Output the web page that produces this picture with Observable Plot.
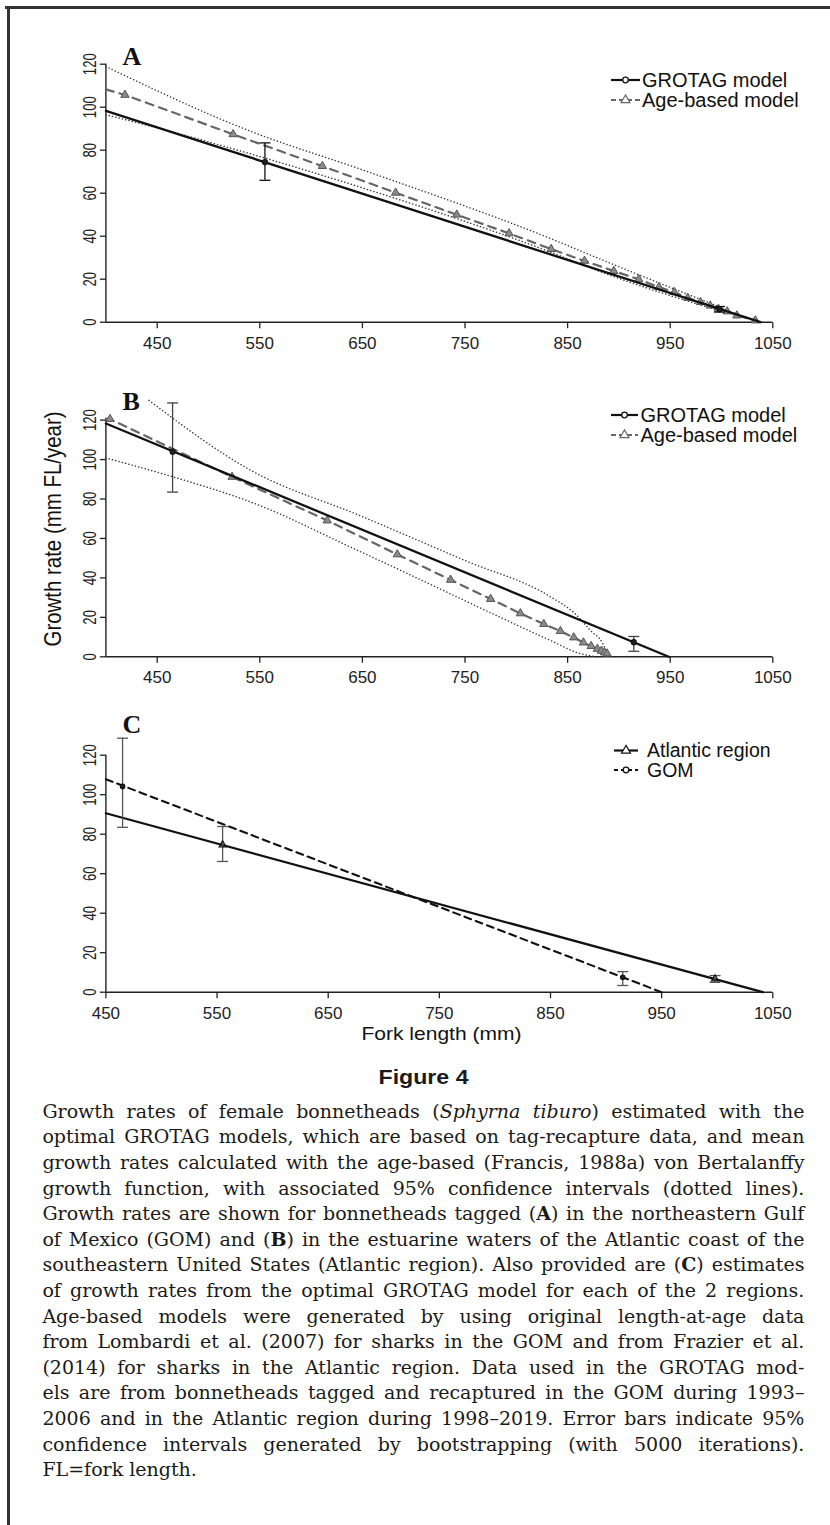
<!DOCTYPE html>
<html><head><meta charset="utf-8">
<script src="https://cdn.jsdelivr.net/npm/d3@7"></script>
<script src="https://cdn.jsdelivr.net/npm/@observablehq/plot@0.6"></script>
<style>
body{margin:0;background:#fff;}
#page{position:relative;width:830px;height:1525px;overflow:hidden;background:#fff;}
.panel{position:absolute;left:0;}
#overlay{position:absolute;left:0;top:0;pointer-events:none;}
#caption{position:absolute;left:42.4px;top:1098.9px;width:762px;font-family:"DejaVu Serif",serif;font-size:19px;line-height:25.6px;color:#1a1a1a;}
#caption div{white-space:nowrap;}
</style></head><body><div id="page"></div>
<script>
// ---------- data ----------
const xTicks = [450, 550, 650, 750, 850, 950, 1050];
const yTicks = [0, 20, 40, 60, 80, 100, 120];

// Panel A (GOM)
const aGrotagLineX = [400, 1038], aGrotagLineY = [98.3, 0];
const aGrotagX = [555, 998], aGrotagY = [74.5, 6.0], aGrotagLo = [66.0, 4.7], aGrotagHi = [83.4, 7.3];
const aAgeEndX = [400, 1036], aAgeEndY = [108.3, 0];
const aAgeX = [418.6, 524, 611, 682.4, 742, 793, 834, 866.5, 895, 919.4, 939, 954, 967, 979.5, 989, 997, 1005.5, 1015, 1033];
const aAgeY = [105.7, 87.4, 72.6, 60.2, 50, 41.3, 34, 28.5, 23.8, 19.9, 16.3, 14, 11.3, 9.3, 7.7, 6.2, 5, 3.1, 0.8];
const aUpperX = [400, 541, 648, 834, 882, 1002], aUpperY = [118.9, 88.8, 71.2, 38.8, 29.3, 6.4];
const aLowerX = [400, 453, 541, 648, 834, 882, 1000], aLowerY = [96.5, 90.0, 78.3, 62.8, 32.5, 23.5, 5.0];

// Panel B (Atlantic region)
const bGrotagLineX = [400, 948.6], bGrotagLineY = [118.3, 0];
const bGrotagX = [465, 914.5], bGrotagY = [104, 7.4], bGrotagLo = [83.5, 2.8], bGrotagHi = [128.7, 10.3];
const bAgeEndX = [400, 891], bAgeEndY = [120.8, 0.3];
const bAgeX = [404, 523, 615.7, 684, 736, 775, 804, 826.8, 843, 856, 865.4, 873, 879, 883, 886, 888.5];
const bAgeY = [120.5, 91.2, 69.1, 51.9, 39, 29.3, 22, 16.6, 13, 9.8, 7.2, 5.4, 4, 3, 2.2, 1.6];
const bUpperX = [442, 541, 648, 750, 834, 857, 873, 884, 889], bUpperY = [130, 94.6, 71.5, 48.8, 30.2, 22, 13, 7, 1];
const bLowerX = [400, 465, 541, 648, 834, 860, 878], bLowerY = [100.8, 91.3, 78.5, 53.3, 8.1, 2, 0];

// Panel C (GROTAG models, both regions)
const cXDomain = [450, 1050];
const cSolidLineX = [450, 1041], cSolidLineY = [90.6, 0];
const cSolidX = [555, 998], cSolidY = [74.6, 6.8], cSolidLo = [66.2, 5.0], cSolidHi = [83.9, 8.4];
const cDashLineX = [450, 950], cDashLineY = [107.8, 0];
const cDashX = [465, 915], cDashY = [104.2, 7.6], cDashLo = [83.5, 3.4], cDashHi = [128.6, 10.4];

const legendA = ["GROTAG model", "Age-based model"];
const legendC = ["Atlantic region", "GOM"];

// ---------- helpers ----------
const zip = (xs, ys) => xs.map((x, i) => ({x, y: ys[i]}));
const bars = (xs, ys, lo, hi) => xs.map((x, i) => ({x, y: ys[i], lo: lo[i], hi: hi[i]}));
const tickSymY = {draw(c){ c.moveTo(-6, 0); c.lineTo(0, 0); }};
const tickSymX = {draw(c){ c.moveTo(0, 0); c.lineTo(0, 6); }};
const capSym = {draw(c){ c.moveTo(-5.5, 0); c.lineTo(5.5, 0); }};
const AX = "#222";
const dotted = {stroke: "#3a3a3a", strokeWidth: 1.5, strokeDasharray: "0.1,3.3", strokeLinecap: "round", curve: "monotone-x"};

function errorBars(data, color, marker){
  return [
    Plot.ruleX(data, {x: "x", y1: "lo", y2: "hi", stroke: color, strokeWidth: 1.3}),
    Plot.dot(data, {x: "x", y: "lo", symbol: capSym, stroke: color, strokeWidth: 1.3, fill: "none"}),
    Plot.dot(data, {x: "x", y: "hi", symbol: capSym, stroke: color, strokeWidth: 1.3, fill: "none"}),
    Plot.dot(data, {x: "x", y: "y", r: marker.r, symbol: marker.symbol, stroke: "#111", strokeWidth: 1.2, fill: marker.fill})
  ];
}

function panel(o){
  const xmin = o.xDomain[0];
  const marks = [
    Plot.ruleY([0], {stroke: AX, strokeWidth: 1.4}),
    Plot.ruleX([xmin], {stroke: AX, strokeWidth: 1.4}),
    Plot.dot(yTicks, {x: () => xmin, y: d => d, symbol: tickSymY, stroke: AX, strokeWidth: 1.3, fill: "none"}),
    Plot.text(yTicks, {x: () => xmin, y: d => d, text: d => String(d), rotate: -90, dx: -15.5, fontSize: 19, fill: AX}),
    Plot.dot(xTicks, {x: d => d, y: () => 0, symbol: tickSymX, stroke: AX, strokeWidth: 1.3, fill: "none"}),
    Plot.text(xTicks, {x: d => d, y: () => 0, dy: 21, text: d => String(d), fontSize: 17, fill: AX}),
    ...o.marks
  ];
  const svg = Plot.plot({
    width: 830, height: o.height,
    marginLeft: 105.4, marginRight: 57.7, marginTop: o.mt, marginBottom: o.mb,
    x: {domain: o.xDomain, axis: null},
    y: {domain: [0, 120], axis: null},
    style: {fontFamily: "'Liberation Sans', Arial, Helvetica, sans-serif", background: "transparent", overflow: "visible"},
    marks
  });
  svg.querySelectorAll("text").forEach(t => {
    const tr = t.getAttribute("transform") || "";
    if (tr.includes("rotate(-90")) {
      t.setAttribute("textLength", 7.3 * t.textContent.length);
      t.setAttribute("lengthAdjust", "spacingAndGlyphs");
    }
  });
  const wrap = document.createElement("div");
  wrap.className = "panel";
  wrap.style.top = o.top + "px";
  wrap.appendChild(svg);
  document.getElementById("page").appendChild(wrap);
}

// ---------- panels ----------
const ageStyle = {stroke: "#666", strokeWidth: 2.2, strokeDasharray: "8,6"};
const triStyle = {symbol: "triangle", r: 3.1, stroke: "#555", strokeWidth: 1, fill: "#8a8a8a"};

function agePanelMarks(gl, grot, endX, endY, ageX, ageY, upX, upY, loX, loY, barColor){
  const ageLine = [zip(endX, endY)[0], ...zip(ageX, ageY), zip(endX, endY)[1]];
  return [
    Plot.line(zip(upX, upY), {x: "x", y: "y", ...dotted}),
    Plot.line(zip(loX, loY), {x: "x", y: "y", ...dotted}),
    Plot.line(ageLine, {x: "x", y: "y", ...ageStyle}),
    Plot.dot(zip(ageX, ageY), {x: "x", y: "y", ...triStyle}),
    Plot.line(gl, {x: "x", y: "y", stroke: "#111", strokeWidth: 2.3}),
    ...errorBars(grot, barColor, {r: 2.5, symbol: "circle", fill: "#222"})
  ];
}

panel({top: 0, height: 360, mt: 63.7, mb: 38.3, xDomain: [400, 1050],
  marks: agePanelMarks(zip(aGrotagLineX, aGrotagLineY), bars(aGrotagX, aGrotagY, aGrotagLo, aGrotagHi),
    aAgeEndX, aAgeEndY, aAgeX, aAgeY, aUpperX, aUpperY, aLowerX, aLowerY, "#111")});

panel({top: 360, height: 340, mt: 59.6, mb: 43.7, xDomain: [400, 1050],
  marks: agePanelMarks(zip(bGrotagLineX, bGrotagLineY), bars(bGrotagX, bGrotagY, bGrotagLo, bGrotagHi),
    bAgeEndX, bAgeEndY, bAgeX, bAgeY, bUpperX, bUpperY, bLowerX, bLowerY, "#444")});

panel({top: 700, height: 350, mt: 54.7, mb: 58.3, xDomain: cXDomain,
  marks: [
    Plot.line(zip(cDashLineX, cDashLineY), {x: "x", y: "y", stroke: "#111", strokeWidth: 2.1, strokeDasharray: "7,5"}),
    Plot.line(zip(cSolidLineX, cSolidLineY), {x: "x", y: "y", stroke: "#111", strokeWidth: 2.3}),
    ...errorBars(bars(cDashX, cDashY, cDashLo, cDashHi), "#555", {r: 2.2, symbol: "circle", fill: "#222"}),
    ...errorBars(bars(cSolidX, cSolidY, cSolidLo, cSolidHi), "#555", {r: 2.6, symbol: "triangle", fill: "none"})
  ]});

// ---------- overlay: border, letters, legends, axis titles ----------
const page = d3.select("#page");
page.append("div").style("position", "absolute").style("left", "5px").style("top", "6px")
  .style("width", "825px").style("height", "2.5px").style("background", "#333");
page.append("div").style("position", "absolute").style("left", "7px").style("top", "6px")
  .style("width", "2.5px").style("height", "1519px").style("background", "#333");

const ov = page.append("svg").attr("id", "overlay").attr("width", 830).attr("height", 1525);
const sans = "'Liberation Sans', Arial, Helvetica, sans-serif";
[["A", 65], ["B", 410], ["C", 733]].forEach(([t, y]) => {
  ov.append("text").attr("x", 122.5).attr("y", y).text(t)
    .attr("font-family", "'Liberation Serif', 'Times New Roman', serif").attr("font-weight", "bold")
    .attr("font-size", 26).attr("fill", "#111");
});

function legend(x0, x1, xt, fs, rows){
  rows.forEach(r => {
    ov.append("line").attr("x1", x0).attr("x2", x1).attr("y1", r.y).attr("y2", r.y)
      .attr("stroke", r.color).attr("stroke-width", r.dash ? 1.8 : 2.2).attr("stroke-dasharray", r.dash || null);
    const cx = (x0 + x1) / 2;
    if (r.sym === "circle") {
      ov.append("circle").attr("cx", cx).attr("cy", r.y).attr("r", 2.8).attr("fill", "#fff")
        .attr("stroke", r.color).attr("stroke-width", 1.3);
    } else {
      ov.append("path").attr("d", d3.symbol(d3.symbolTriangle, 34)()).attr("transform", `translate(${cx},${r.y})`)
        .attr("fill", "#fff").attr("stroke", r.color).attr("stroke-width", 1.2);
    }
    ov.append("text").attr("x", xt).attr("y", r.y + 0.35 * fs).text(r.label)
      .attr("font-family", sans).attr("font-size", fs).attr("fill", "#111");
  });
}
legend(611, 640, 642, 20, [
  {y: 80, label: legendA[0], color: "#111", sym: "circle"},
  {y: 100, label: legendA[1], color: "#666", dash: "5,3", sym: "triangle"}]);
legend(611, 638, 640.5, 20, [
  {y: 415, label: legendA[0], color: "#111", sym: "circle"},
  {y: 435, label: legendA[1], color: "#666", dash: "5,3", sym: "triangle"}]);
legend(614, 638, 647, 19.5, [
  {y: 750.5, label: legendC[0], color: "#111", sym: "triangle"},
  {y: 770, label: legendC[1], color: "#111", dash: "4,3", sym: "circle"}]);

ov.append("text").attr("transform", "translate(52,529) rotate(-90)").attr("text-anchor", "middle")
  .attr("dominant-baseline", "central").attr("font-family", sans).attr("font-size", 24).attr("fill", "#111")
  .attr("textLength", 235).attr("lengthAdjust", "spacingAndGlyphs").text("Growth rate (mm FL/year)");
ov.append("text").attr("x", 441.5).attr("y", 1040).attr("text-anchor", "middle")
  .attr("font-family", sans).attr("font-size", 19).attr("fill", "#111")
  .attr("textLength", 160).attr("lengthAdjust", "spacingAndGlyphs").text("Fork length (mm)");
ov.append("text").attr("x", 423.5).attr("y", 1084).attr("text-anchor", "middle")
  .attr("font-family", sans).attr("font-weight", "bold").attr("font-size", 21).attr("fill", "#1a1a1a")
  .attr("textLength", 90).attr("lengthAdjust", "spacingAndGlyphs").text("Figure 4");

// ---------- caption ----------
const captionLines = [
  "Growth rates of female bonnetheads (<i>Sphyrna tiburo</i>) estimated with the",
  "optimal GROTAG models, which are based on tag-recapture data, and mean",
  "growth rates calculated with the age-based (Francis, 1988a) von Bertalanffy",
  "growth function, with associated 95% confidence intervals (dotted lines).",
  "Growth rates are shown for bonnetheads tagged (<b>A</b>) in the northeastern Gulf",
  "of Mexico (GOM) and (<b>B</b>) in the estuarine waters of the Atlantic coast of the",
  "southeastern United States (Atlantic region). Also provided are (<b>C</b>) estimates",
  "of growth rates from the optimal GROTAG model for each of the 2 regions.",
  "Age-based models were generated by using original length-at-age data",
  "from Lombardi et al. (2007) for sharks in the GOM and from Frazier et al.",
  "(2014) for sharks in the Atlantic region. Data used in the GROTAG mod-",
  "els are from bonnetheads tagged and recaptured in the GOM during 1993–",
  "2006 and in the Atlantic region during 1998–2019. Error bars indicate 95%",
  "confidence intervals generated by bootstrapping (with 5000 iterations).",
  "FL=fork length."
];
const TARGET = 762;
const cap = page.append("div").attr("id", "caption");
captionLines.forEach((l, i) => {
  const div = cap.append("div");
  const span = div.append("span").html(l);
  let w = span.node().getBoundingClientRect().width;
  const chars = span.node().textContent.length;
  // if the natural line is too wide, tighten letters a little first
  if (w > TARGET - 6 * 0) {
    const over = w - (TARGET - 20);
    if (over > 0) { div.style("letter-spacing", (-over / chars) + "px"); w = span.node().getBoundingClientRect().width; }
  }
  if (i < captionLines.length - 1) {
    const spaces = (span.node().textContent.match(/ /g) || []).length;
    if (spaces) div.style("word-spacing", ((TARGET - w) / spaces) + "px");
  }
});
</script></body></html>
